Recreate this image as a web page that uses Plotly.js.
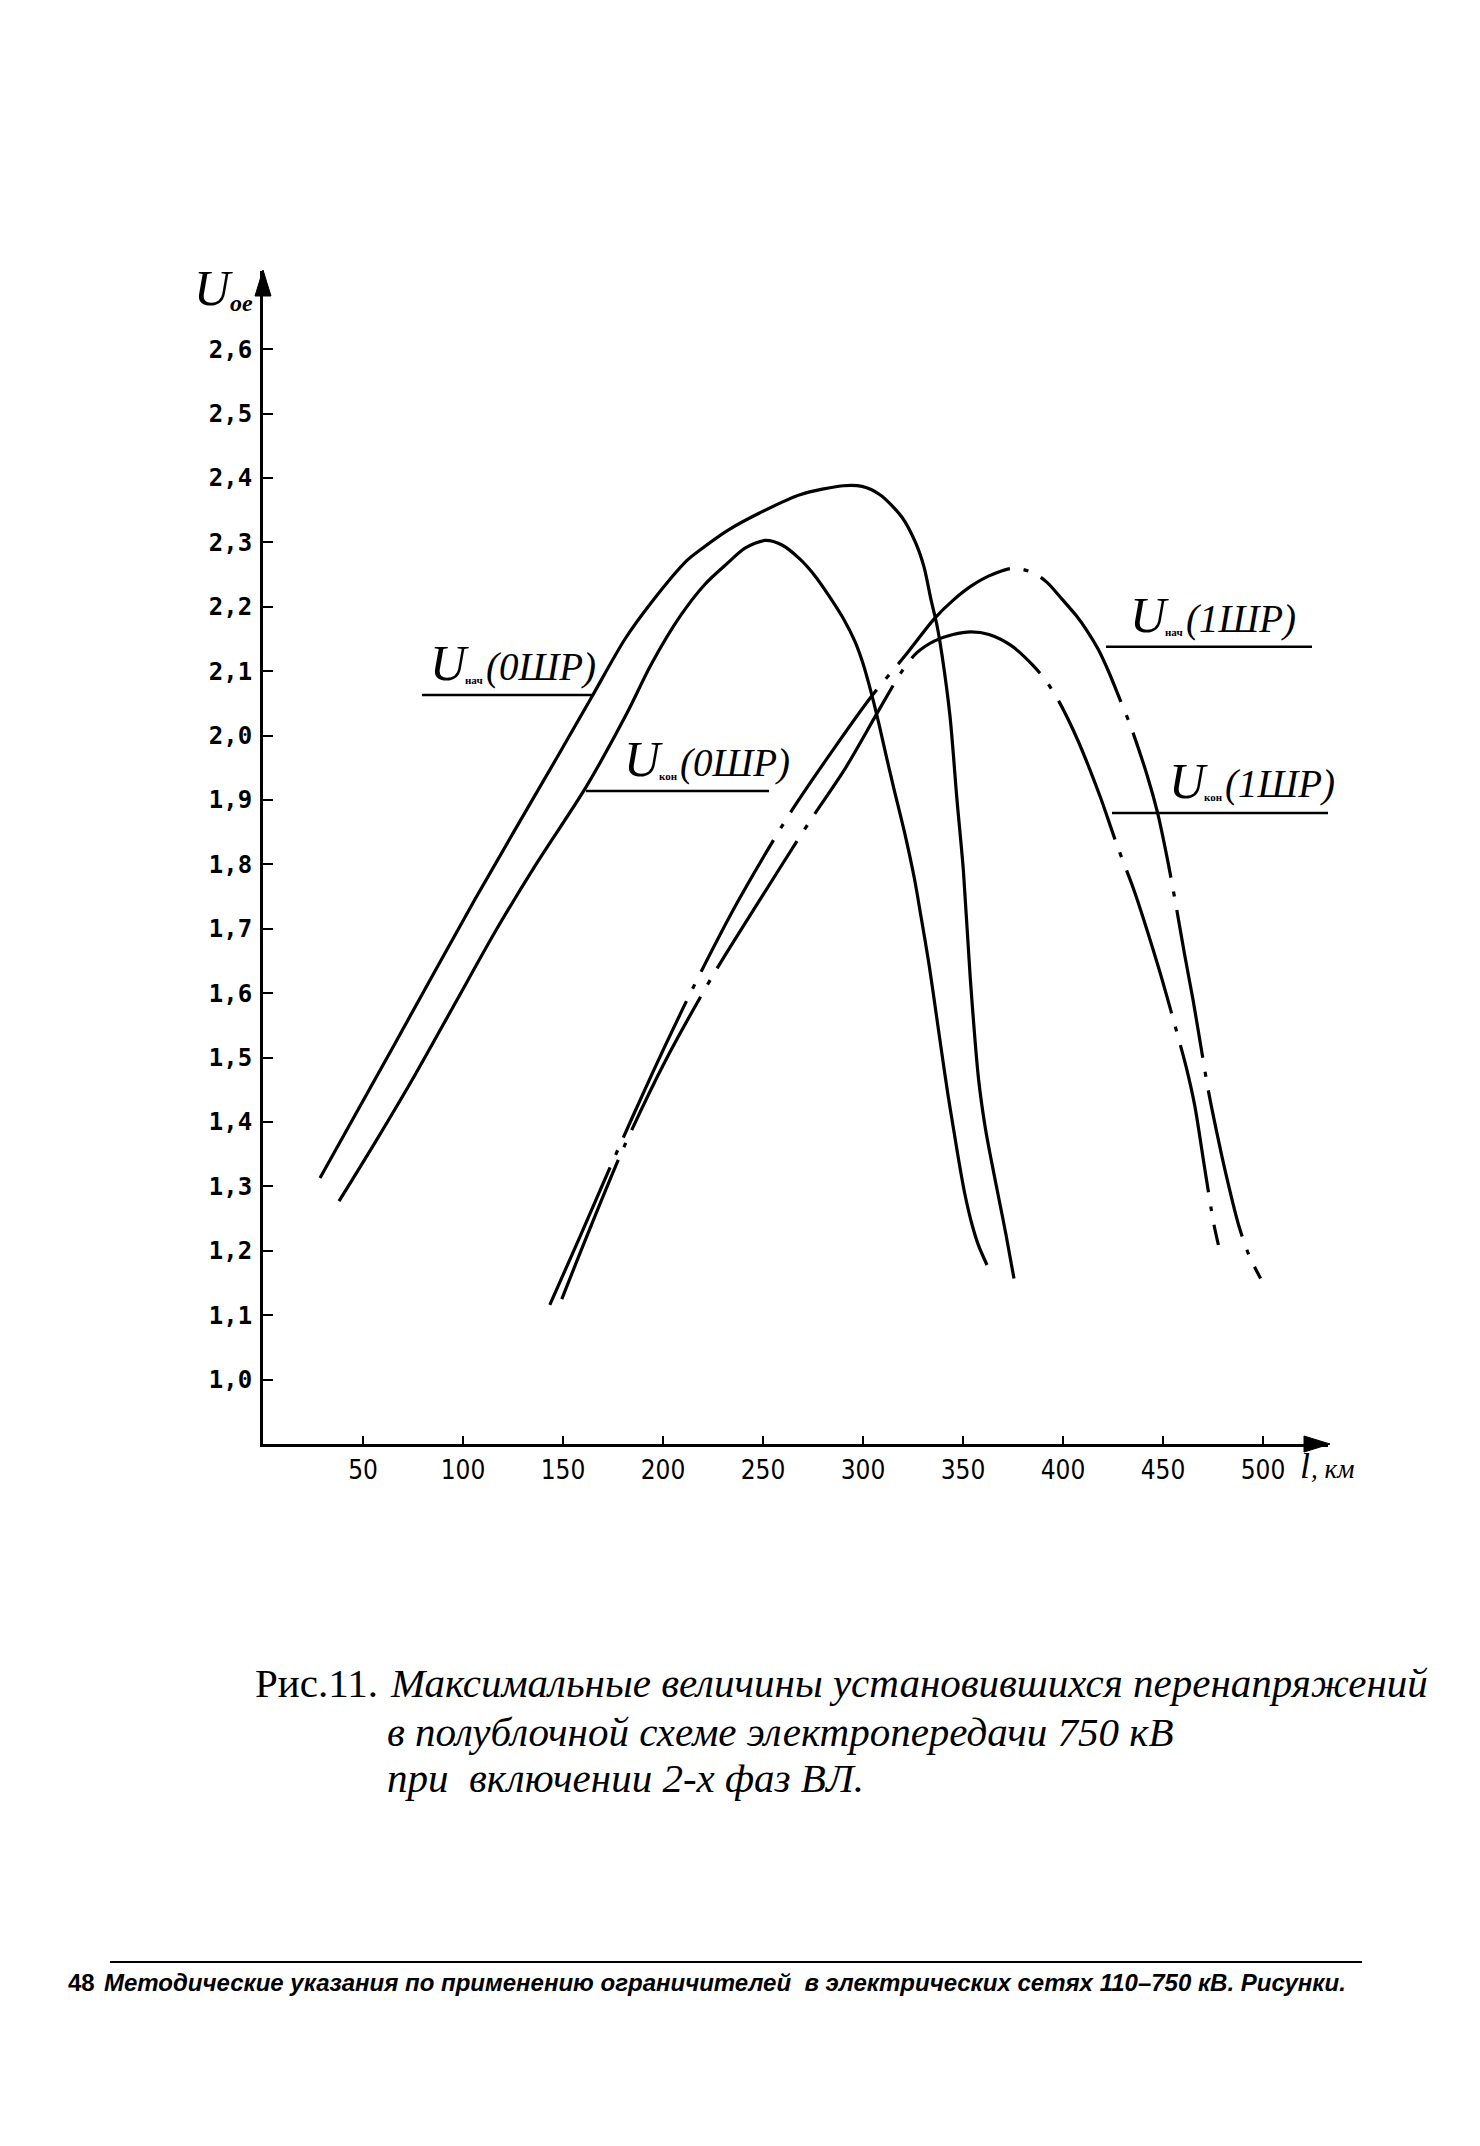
<!DOCTYPE html>
<html>
<head>
<meta charset="utf-8">
<script src="https://cdn.plot.ly/plotly-3.0.1.min.js"></script>
<style>
html, body { margin: 0; padding: 0; background: #ffffff; }
#chart { width: 1480px; height: 2146px; }
</style>
</head>
<body>
<div id="chart"></div>
<script>
// ---------- data ----------
// l, km  /  U, o.e.
const nach0_x = [28.5, 66, 106, 147, 164, 181, 194, 212, 218, 232, 248.5, 268.5, 290, 299.5, 308.5, 319.5, 326.5, 330.5, 334, 337, 339.5, 343.5, 347, 350.2, 353.6, 357.8, 361.2, 364.5, 368, 371.5, 375.5];
const nach0_y = [1.313, 1.522, 1.746, 1.966, 2.058, 2.150, 2.206, 2.272, 2.287, 2.318, 2.346, 2.374, 2.388, 2.387, 2.374, 2.339, 2.298, 2.262, 2.211, 2.171, 2.125, 2.030, 1.900, 1.790, 1.625, 1.466, 1.390, 1.335, 1.280, 1.225, 1.157];

const kon0_x = [38, 56, 76, 96, 116, 136.5, 161.5, 182, 194, 208.5, 221, 232, 241, 251, 259.5, 268.5, 276, 283, 290.5, 296, 300, 304, 308, 312, 315.5, 320.6, 325.7, 329, 333, 336.5, 339.5, 342.6, 345.5, 348, 351, 354.4, 357.8, 362];
const kon0_y = [1.277, 1.368, 1.473, 1.584, 1.695, 1.800, 1.920, 2.035, 2.110, 2.185, 2.235, 2.267, 2.291, 2.303, 2.296, 2.274, 2.248, 2.217, 2.180, 2.146, 2.112, 2.068, 2.018, 1.963, 1.917, 1.852, 1.778, 1.719, 1.645, 1.570, 1.505, 1.440, 1.385, 1.338, 1.287, 1.242, 1.208, 1.178];

const nach1_x = [143.4, 158.5, 174.6, 194.7, 214.8, 237, 263, 287.3, 304, 321.3, 335.8, 345, 354, 363, 375, 385, 392, 399.5, 406.7, 412.2, 417.6, 423, 428.5, 433.8, 442.2, 447.3, 452.4, 456, 460.8, 465, 468.8, 472.6, 477.5, 482, 487.8, 493, 498.8];
const nach1_y = [1.116, 1.222, 1.337, 1.476, 1.607, 1.740, 1.877, 1.988, 2.060, 2.125, 2.182, 2.210, 2.232, 2.248, 2.260, 2.253, 2.238, 2.212, 2.186, 2.162, 2.134, 2.098, 2.056, 2.015, 1.937, 1.880, 1.805, 1.745, 1.660, 1.590, 1.520, 1.450, 1.375, 1.312, 1.240, 1.193, 1.157];

const kon1_x = [149.4, 162.5, 180.6, 200.7, 225, 247, 273.2, 291.3, 308, 319.5, 326.7, 335.8, 345, 354, 363, 374, 385, 392.2, 398.5, 407.5, 418.6, 427, 435.5, 440.5, 449, 455.8, 461.7, 465.9, 471, 475.2, 477.7];
const kon1_y = [1.125, 1.227, 1.362, 1.492, 1.628, 1.738, 1.866, 1.950, 2.040, 2.100, 2.128, 2.147, 2.157, 2.161, 2.157, 2.140, 2.109, 2.082, 2.050, 1.992, 1.905, 1.830, 1.760, 1.713, 1.627, 1.552, 1.484, 1.425, 1.325, 1.245, 1.209];

const xTickVals = [50, 100, 150, 200, 250, 300, 350, 400, 450, 500];
const xTickText = ["50", "100", "150", "200", "250", "300", "350", "400", "450", "500"];
const yTickVals = [1.0, 1.1, 1.2, 1.3, 1.4, 1.5, 1.6, 1.7, 1.8, 1.9, 2.0, 2.1, 2.2, 2.3, 2.4, 2.5, 2.6];
const yTickText = ["1,0", "1,1", "1,2", "1,3", "1,4", "1,5", "1,6", "1,7", "1,8", "1,9", "2,0", "2,1", "2,2", "2,3", "2,4", "2,5", "2,6"];

const seriesNames = ["U нач (0ШР)", "U кон (0ШР)", "U нач (1ШР)", "U кон (1ШР)"];
const seriesSubs = ["нач", "кон", "нач", "кон"];
const seriesTags = ["(0ШР)", "(0ШР)", "(1ШР)", "(1ШР)"];

const yAxisName = "U";
const yAxisSub = "oe";
const xAxisName = "l";
const xAxisUnit = ", км";

const captionPrefix = "Рис.11.";
const captionLines = [
  "Максимальные величины установившихся перенапряжений",
  "в полублочной схеме электропередачи 750 кВ",
  "при  включении 2-х фаз ВЛ."
];
const footerNumber = "48";
const footerText = "Методические указания по применению ограничителей  в электрических сетях 110–750 кВ. Рисунки.";

// ---------- layout geometry ----------
const W = 1480, H = 2146;
const ML = 263, MR = 152, MT = 271, MB = 702;
const PW = W - ML - MR, PH = H - MT - MB;
const X_MAX = 532.5;
const Y_MIN = 0.9, Y_MAX = 0.9 + PH / 644;
function px(X) { return (X - ML) / PW; }
function py(Y) { return (H - MB - Y) / PH; }

const serif = "Liberation Serif, DejaVu Serif, serif";
const dashDot = "150px,14px,5px,14px";

const traces = [
  {x: nach0_x, y: nach0_y, name: seriesNames[0], dash: "solid"},
  {x: kon0_x, y: kon0_y, name: seriesNames[1], dash: "solid"},
  {x: nach1_x, y: nach1_y, name: seriesNames[2], dash: dashDot},
  {x: kon1_x, y: kon1_y, name: seriesNames[3], dash: dashDot}
].map(t => ({
  type: "scatter", mode: "lines", x: t.x, y: t.y, name: t.name,
  line: {color: "#000", width: 3.2, shape: "spline", smoothing: 0.8, dash: t.dash},
  hoverinfo: "skip", showlegend: false
}));

// leader lines under labels (data units)
const leaders = [
  {x0: 79.5, x1: 165, y: 2.063},
  {x0: 161.5, x1: 253, y: 1.914},
  {x0: 421.5, x1: 524.5, y: 2.138},
  {x0: 424.5, x1: 534, y: 1.880}
];
// label start (left) and baseline, data units
const labelPos = [
  {x: 82.8, y: 2.086},
  {x: 180, y: 1.937},
  {x: 433, y: 2.160},
  {x: 452.5, y: 1.903}
];

const shapes = leaders.map(l => ({
  type: "line", xref: "x", yref: "y", x0: l.x0, x1: l.x1, y0: l.y, y1: l.y,
  line: {color: "#000", width: 2.5}
}));
shapes.push({type: "line", xref: "paper", yref: "paper", x0: px(110), x1: px(1362), y0: py(1962), y1: py(1962),
  line: {color: "#000", width: 2}});
function tri(a, b, c) {
  return "M" + px(a[0]) + "," + py(a[1]) + " L" + px(b[0]) + "," + py(b[1]) + " L" + px(c[0]) + "," + py(c[1]) + " Z";
}
shapes.push({type: "path", xref: "paper", yref: "paper", path: tri([1330, 1444], [1304, 1436], [1304, 1452]),
  fillcolor: "#000", line: {color: "#000", width: 1}});
shapes.push({type: "path", xref: "paper", yref: "paper", path: tri([263, 270], [255, 296], [271, 296]),
  fillcolor: "#000", line: {color: "#000", width: 1}});

// text placed with its baseline at (x, y); dx in px
function txt(x, y, xref, yref, dx, dy, text, size, style, weight, family) {
  return {
    x: x, y: y, xref: xref, yref: yref, xanchor: "left", yanchor: "bottom", showarrow: false,
    xshift: dx, yshift: dy - (0.216 * size + 1), text: text, borderpad: 0,
    font: {family: family || serif, size: size, color: "#000", style: style || "normal", weight: weight || "normal"}
  };
}

const annotations = [];
labelPos.forEach((p, i) => {
  annotations.push(txt(p.x, p.y, "x", "y", 0, 0, "U", 50, "italic"));
  annotations.push(txt(p.x, p.y, "x", "y", 35, -3, seriesSubs[i], 11, "normal", "bold"));
  annotations.push(txt(p.x, p.y, "x", "y", 56, 0, seriesTags[i], 39, "italic"));
});

// axis names
annotations.push(txt(px(193), py(305), "paper", "paper", 0, 0, yAxisName, 50, "italic"));
annotations.push(txt(px(193), py(305), "paper", "paper", 36, -6, yAxisSub, 24, "italic", "bold"));
annotations.push(txt(px(1299), py(1478), "paper", "paper", 0, 0, xAxisName, 36, "italic"));
annotations.push(txt(px(1299), py(1478), "paper", "paper", 11, 0, xAxisUnit, 27, "italic"));

// caption
annotations.push(txt(px(254), py(1697), "paper", "paper", 0, 0, captionPrefix, 41));
annotations.push(txt(px(389), py(1697), "paper", "paper", 0, 0, captionLines[0], 41, "italic"));
annotations.push(txt(px(386), py(1746), "paper", "paper", 0, 0, captionLines[1], 41, "italic"));
annotations.push(txt(px(386), py(1792), "paper", "paper", 0, 0, captionLines[2], 41, "italic"));

// footer
const sans = "Liberation Sans, Arial, sans-serif";
annotations.push(txt(px(67), py(1991), "paper", "paper", 0, 0, footerNumber, 24, "normal", "bold", sans));
annotations.push(txt(px(103), py(1991), "paper", "paper", 0, 0, footerText, 24, "italic", "bold", sans));

const layout = {
  width: W, height: H,
  margin: {l: ML, r: MR, t: MT, b: MB, pad: 0},
  paper_bgcolor: "#fff", plot_bgcolor: "#fff",
  showlegend: false,
  xaxis: {
    range: [0, X_MAX], showgrid: false, zeroline: false,
    showline: true, linecolor: "#000", linewidth: 3,
    ticks: "inside", ticklen: 8, tickwidth: 2, tickcolor: "#000",
    tickvals: xTickVals, ticktext: xTickText, ticklabelstandoff: 1,
    tickfont: {family: "DejaVu Sans Condensed, Liberation Sans, sans-serif", size: 26, color: "#000"}
  },
  yaxis: {
    range: [Y_MIN, Y_MAX], showgrid: false, zeroline: false,
    showline: true, linecolor: "#000", linewidth: 3,
    ticks: "inside", ticklen: 10, tickwidth: 2, tickcolor: "#000",
    tickvals: yTickVals, ticktext: yTickText, ticklabelstandoff: 3,
    tickfont: {family: "DejaVu Sans Mono, monospace", size: 24, color: "#000", weight: "bold"}
  },
  shapes: shapes,
  annotations: annotations
};

Plotly.newPlot("chart", traces, layout, {staticPlot: true, displayModeBar: false});
</script>
</body>
</html>
